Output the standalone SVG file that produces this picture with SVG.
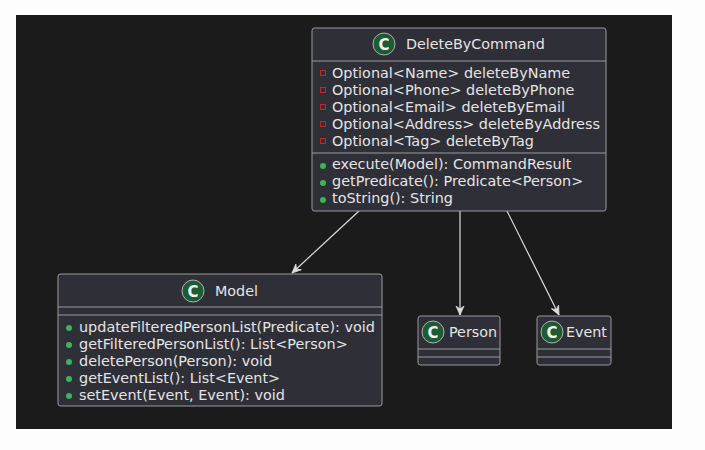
<svg xmlns="http://www.w3.org/2000/svg" width="705" height="450" viewBox="0 0 705 450">
<defs>
<style>
.bg{fill:#1b1b1b}
.box{fill:#2f2f38;stroke:#9a9a9e;stroke-width:1}
.sep{stroke:#9a9a9e;stroke-width:1}
.t{font-family:"DejaVu Sans",sans-serif;font-size:14.4px;fill:#e4e4e4}
.title{font-family:"DejaVu Sans",sans-serif;font-size:14.3px;fill:#e4e4e4}
.ci{fill:#1e5a32;stroke:#b0b0b0;stroke-width:1}
.cl{font-family:"DejaVu Sans",sans-serif;font-size:15px;font-weight:bold;fill:#f0f0f0;text-anchor:middle}
.priv{fill:none;stroke:#c0282e;stroke-width:1}
.pub{fill:#3cb45a}
.edge{stroke:#dcdcdc;stroke-width:1.2;fill:none}
</style>
<marker id="arr" viewBox="0 0 10 10" refX="9.5" refY="5" markerWidth="10" markerHeight="10" markerUnits="userSpaceOnUse" orient="auto">
<path d="M0.5,1 L9.5,5 L0.5,9 L3.5,5 Z" fill="#dcdcdc" stroke="#dcdcdc" stroke-width="0.8" stroke-linejoin="round"/>
</marker>
</defs>
<rect x="0" y="0" width="705" height="450" fill="#fdfdfd"/>
<rect class="bg" x="16" y="15" width="656" height="414"/>

<g id="connectors">
<path class="edge" d="M359,211 L292,273" marker-end="url(#arr)"/>
<path class="edge" d="M460,211 L460,315" marker-end="url(#arr)"/>
<path class="edge" d="M507,211 L559,315" marker-end="url(#arr)"/>
</g>

<g id="DeleteByCommand">
<rect class="box" x="312" y="28" width="294" height="183" rx="2.5"/>
<line class="sep" x1="312" y1="61" x2="606" y2="61"/>
<line class="sep" x1="312" y1="153" x2="606" y2="153"/>
<circle class="ci" cx="384" cy="44" r="11"/>
<text class="cl" x="384" y="49.5">C</text>
<text class="title" x="406" y="49">DeleteByCommand</text>
<rect class="priv" x="320.5" y="70.5" width="5" height="5"/>
<rect class="priv" x="320.5" y="87.5" width="5" height="5"/>
<rect class="priv" x="320.5" y="104.5" width="5" height="5"/>
<rect class="priv" x="320.5" y="121.5" width="5" height="5"/>
<rect class="priv" x="320.5" y="138.5" width="5" height="5"/>
<text class="t" x="332" y="78">Optional&lt;Name&gt; deleteByName</text>
<text class="t" x="332" y="95">Optional&lt;Phone&gt; deleteByPhone</text>
<text class="t" x="332" y="112">Optional&lt;Email&gt; deleteByEmail</text>
<text class="t" x="332" y="129">Optional&lt;Address&gt; deleteByAddress</text>
<text class="t" x="332" y="146">Optional&lt;Tag&gt; deleteByTag</text>
<circle class="pub" cx="323" cy="166" r="3"/>
<circle class="pub" cx="323" cy="183" r="3"/>
<circle class="pub" cx="323" cy="200" r="3"/>
<text class="t" x="332" y="169">execute(Model): CommandResult</text>
<text class="t" x="332" y="186">getPredicate(): Predicate&lt;Person&gt;</text>
<text class="t" x="332" y="203">toString(): String</text>
</g>

<g id="Model">
<rect class="box" x="58" y="274" width="324" height="132" rx="2.5"/>
<line class="sep" x1="58" y1="307" x2="382" y2="307"/>
<line class="sep" x1="58" y1="315" x2="382" y2="315"/>
<circle class="ci" cx="193" cy="291" r="11"/>
<text class="cl" x="193" y="296.5">C</text>
<text class="title" x="215" y="296">Model</text>
<circle class="pub" cx="69" cy="328" r="3"/>
<circle class="pub" cx="69" cy="345" r="3"/>
<circle class="pub" cx="69" cy="362" r="3"/>
<circle class="pub" cx="69" cy="379" r="3"/>
<circle class="pub" cx="69" cy="396" r="3"/>
<text class="t" x="79" y="332">updateFilteredPersonList(Predicate): void</text>
<text class="t" x="79" y="349">getFilteredPersonList(): List&lt;Person&gt;</text>
<text class="t" x="79" y="366">deletePerson(Person): void</text>
<text class="t" x="79" y="383">getEventList(): List&lt;Event&gt;</text>
<text class="t" x="79" y="400">setEvent(Event, Event): void</text>
</g>

<g id="Person">
<rect class="box" x="418" y="316" width="82" height="49" rx="2.5"/>
<line class="sep" x1="418" y1="349" x2="500" y2="349"/>
<line class="sep" x1="418" y1="357" x2="500" y2="357"/>
<circle class="ci" cx="433" cy="332" r="11"/>
<text class="cl" x="433" y="337.5">C</text>
<text class="title" x="449" y="337">Person</text>
</g>

<g id="Event">
<rect class="box" x="537" y="316" width="74" height="49" rx="2.5"/>
<line class="sep" x1="537" y1="349" x2="611" y2="349"/>
<line class="sep" x1="537" y1="357" x2="611" y2="357"/>
<circle class="ci" cx="552" cy="332" r="11"/>
<text class="cl" x="552" y="337.5">C</text>
<text class="title" x="566" y="337">Event</text>
</g>
</svg>
